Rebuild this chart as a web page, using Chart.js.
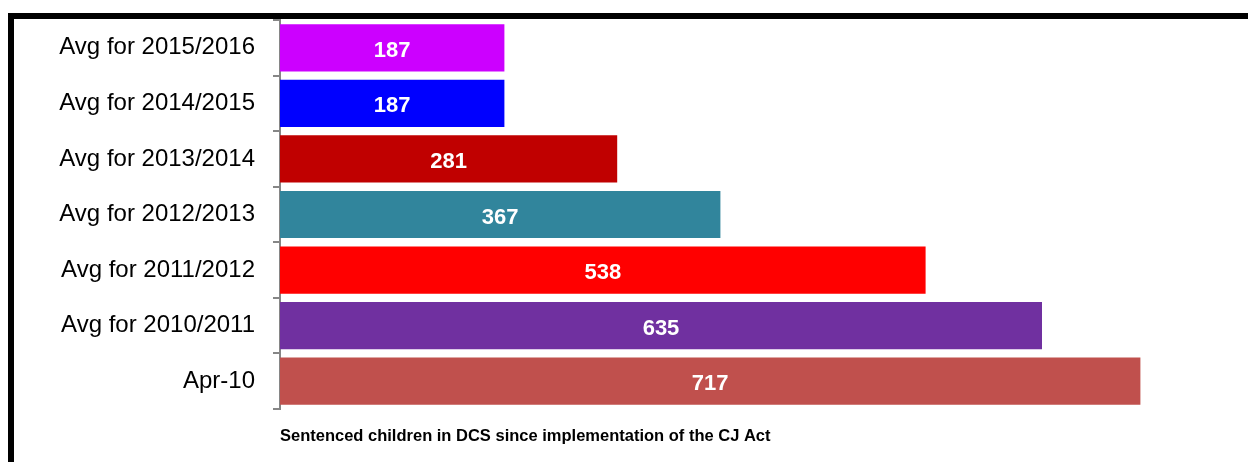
<!DOCTYPE html>
<html>
<head>
<meta charset="utf-8">
<script src="https://cdn.jsdelivr.net/npm/chart.js@4"></script>
<style>
  html, body { margin: 0; padding: 0; background: #fff; overflow: hidden; }
  #frame {
    position: absolute; left: 8px; top: 13px;
    width: 1234px; height: 443px;
    border-top: 6px solid #000; border-left: 6px solid #000;
  }
  #grafico01 { display: block; }
</style>
</head>
<body>
<div id="frame"><canvas id="grafico01" width="1234" height="443"></canvas></div>
<script>
// dados do grafico
const categorias = ["Avg for 2015/2016", "Avg for 2014/2015", "Avg for 2013/2014", "Avg for 2012/2013", "Avg for 2011/2012", "Avg for 2010/2011", "Apr-10"];
const valores = [187, 187, 281, 367, 538, 635, 717];
const cores = ["#CC00FF", "#0000FF", "#C00000", "#31859C", "#FF0000", "#7030A0", "#C0504D"];
const tituloX = "Sentenced children in DCS since implementation of the CJ Act";

const fonte = '"Liberation Sans", Arial, sans-serif';

// rotulos brancos dentro das barras
const rotulos = {
  id: "rotulos",
  afterDatasetsDraw(chart) {
    const ctx = chart.ctx;
    const meta = chart.getDatasetMeta(0);
    ctx.save();
    ctx.fillStyle = "#fff";
    ctx.font = "bold 22px " + fonte;
    ctx.textAlign = "center";
    ctx.textBaseline = "middle";
    meta.data.forEach((bar, i) => {
      const p = bar.getProps(["x", "y", "base"], true);
      ctx.fillText(String(valores[i]), (p.x + p.base) / 2, p.y + 3);
    });
    ctx.restore();
  }
};

new Chart(document.getElementById("grafico01"), {
  type: "bar",
  data: {
    labels: categorias,
    datasets: [{
      data: valores,
      backgroundColor: cores,
      borderWidth: 0,
      barPercentage: 0.85,
      categoryPercentage: 1
    }]
  },
  options: {
    indexAxis: "y",
    responsive: false,
    animation: false,
    layout: { padding: { top: 1, right: 8, bottom: 0, left: 0 } },
    plugins: {
      legend: { display: false },
      tooltip: { enabled: false }
    },
    scales: {
      x: {
        min: 0,
        max: 800,
        ticks: { display: false },
        grid: { display: false },
        border: { display: false },
        title: {
          display: true,
          text: tituloX,
          align: "start",
          color: "#000",
          font: { family: fonte, size: 16.5, weight: "bold" },
          padding: { top: 0, bottom: 16 }
        },
        afterFit(scale) { scale.height = 53; }
      },
      y: {
        ticks: {
          color: "#000",
          padding: 18,
          font: { family: fonte, size: 24 }
        },
        grid: {
          drawOnChartArea: false,
          drawTicks: true,
          tickLength: 7,
          color: "#868686",
          lineWidth: 2
        },
        border: { display: true, color: "#868686", width: 2 },
        afterFit(scale) {
          scale.width = 266;
          scale.paddingTop = 0;
          scale.paddingBottom = 0;
        }
      }
    }
  },
  plugins: [rotulos]
});
</script>
</body>
</html>
